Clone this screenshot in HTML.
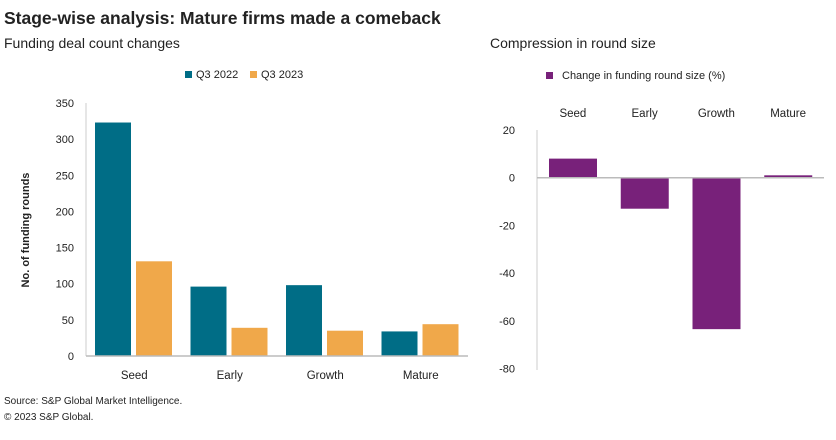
<!DOCTYPE html>
<html><head><meta charset="utf-8"><style>
body{margin:0;background:#fff;font-family:"Liberation Sans",sans-serif;}
svg text{font-family:"Liberation Sans",sans-serif;fill:#222;}
</style></head><body>
<svg width="836" height="435">
<text x="4" y="24" font-size="17.5" font-weight="bold" fill="#000">Stage-wise analysis: Mature firms made a comeback</text>
<text x="4" y="48" font-size="14">Funding deal count changes</text>
<text x="490" y="48" font-size="14">Compression in round size</text>
<g>
<rect x="185" y="71" width="7" height="7" fill="#006d86"/>
<text x="196" y="78" font-size="11">Q3 2022</text>
<rect x="250" y="71" width="7" height="7" fill="#f0a84a"/>
<text x="261" y="78" font-size="11">Q3 2023</text>
</g>
<g>
<rect x="546" y="72" width="7" height="7" fill="#78217a"/>
<text x="562" y="79" font-size="11">Change in funding round size (%)</text>
</g>
<text transform="translate(29,230) rotate(-90)" text-anchor="middle" font-size="11" font-weight="bold">No. of funding rounds</text>
<g id="left"></g><g id="right"></g>
<text x="4" y="404" font-size="10">Source: S&amp;P Global Market Intelligence.</text>
<text x="4" y="420" font-size="10">© 2023 S&amp;P Global.</text>
</svg>
<script>
const categories=["Seed","Early","Growth","Mature"];
const q3_2022=[323,96,98,34];
const q3_2023=[131,39,35,44];
const leftTicks=[0,50,100,150,200,250,300,350];
const changePct=[8,-13,-63.5,1];
const rightTicks=[20,0,-20,-40,-60,-80];
const NS="http://www.w3.org/2000/svg";
function mk(parent,tag,attrs,txt){const e=document.createElementNS(NS,tag);for(const k in attrs)e.setAttribute(k,attrs[k]);if(txt!==undefined)e.textContent=txt;parent.appendChild(e);return e;}
// left chart
const L=document.getElementById('left');
const lx0=86,lx1=468,ly0=356,ly350=103;
const ly=v=>ly0-(v/350)*(ly0-ly350);
const lband=(lx1-lx0)/categories.length;
leftTicks.forEach(t=>{const e=mk(L,'text',{x:74,y:ly(t)+4,'text-anchor':'end','font-size':11},t);

});
categories.forEach((c,i)=>{
 const gx=lx0+i*lband;
 const a=mk(L,'rect',{x:gx+9,y:ly(q3_2022[i]),width:36,height:ly0-ly(q3_2022[i]),fill:'#006d86'});
 
 
 const b=mk(L,'rect',{x:gx+50,y:ly(q3_2023[i]),width:36,height:ly0-ly(q3_2023[i]),fill:'#f0a84a'});
 
 
 const t=mk(L,'text',{x:gx+lband/2+0.5,y:379,'text-anchor':'middle','font-size':11.5},c);
 
 
});
const la=mk(L,'line',{x1:lx0,y1:103,x2:lx0,y2:ly0,stroke:'#ccc','stroke-width':1});


const lb=mk(L,'line',{x1:lx0,y1:ly0,x2:lx1,y2:ly0,stroke:'#bbb','stroke-width':1.5});


// right chart
const R=document.getElementById('right');
const rx0=537,rx1=824,ry0=177.7,rPer=47.7/20;
const ry=v=>ry0-v*rPer;
const rband=(rx1-rx0)/categories.length;
rightTicks.forEach(t=>{const e=mk(R,'text',{x:515,y:ry(t)+4,'text-anchor':'end','font-size':11},t);

});
categories.forEach((c,i)=>{
 const gx=rx0+i*rband;
 const v=changePct[i];
 const r=mk(R,'rect',{x:gx+12,y:Math.min(ry(v),ry0),width:48,height:Math.abs(ry(v)-ry0),fill:'#78217a'});
 
 
 const t=mk(R,'text',{x:gx+rband/2,y:117,'text-anchor':'middle','font-size':11.5},c);
 
 
});
const ra=mk(R,'line',{x1:rx0,y1:130,x2:rx0,y2:370,stroke:'#ccc','stroke-width':1});


const rb=mk(R,'line',{x1:rx0,y1:ry0,x2:rx1,y2:ry0,stroke:'#bbb','stroke-width':1.5});


</script>
</body></html>
